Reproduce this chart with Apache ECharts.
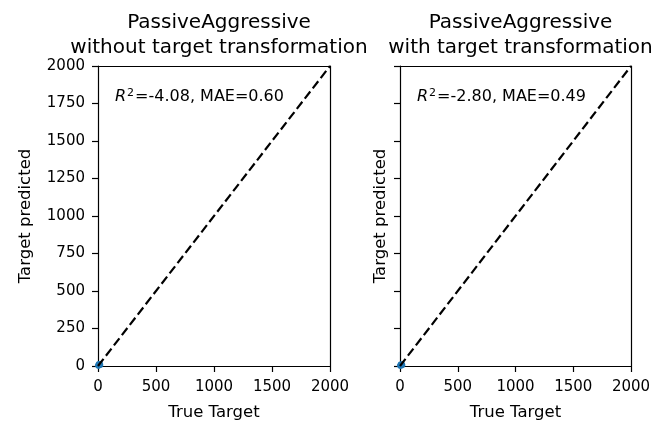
<!DOCTYPE html>
<html>
<head>
<meta charset="utf-8">
<script src="https://cdn.jsdelivr.net/npm/echarts@6/dist/echarts.min.js"></script>
<style>
  html, body { margin: 0; padding: 0; background: #fff; }
  #box { width: 669px; height: 426px; }
</style>
</head>
<body>
<div id="box"></div>
<script>
// 两个子图的标题
var titles = [
    'PassiveAggressive\nwithout target transformation',
    'PassiveAggressive\nwith target transformation'
];
// 评分文字
var r2 = ['-4.08', '-2.80'];
var mae = ['0.60', '0.49'];
// 对角线 y = x 的两个端点
var diagX = [0, 2000];
// 散点 (真实值, 预测值)，都挤在原点附近
var trueA = [2, 4, 6, 8, 10, 12, 15, 18, 5, 9, 3, 14, 20, 7];
var predA = [3, 6, 4, 10, 7, 12, 9, 14, 8, 5, 2, 11, 6, 13];
var trueB = [2, 4, 6, 8, 10, 12, 15, 18, 5, 9, 3, 14, 20, 7];
var predB = [2, 5, 4, 9, 6, 10, 8, 12, 7, 4, 2, 9, 5, 11];

var font = 'DejaVu Sans';
var grids = [
    { left: 98, top: 66, width: 232, height: 305 },
    { left: 400, top: 66, width: 231, height: 305 }
];

function pairs(xs, ys) {
    return xs.map(function (x, i) { return [x, ys[i]]; });
}
// 不要千位分隔符
function plain(v) { return String(v); }

var xAxis = [], yAxis = [], series = [], titleList = [];
grids.forEach(function (g, i) {
    xAxis.push({
        type: 'value', gridIndex: i, min: 0, max: 2000, interval: 500,
        name: 'True Target', nameLocation: 'middle', nameGap: 38,
        nameTextStyle: { fontFamily: font, fontSize: 16.5, color: '#000' },
        axisLine: { show: true, onZero: false, lineStyle: { color: '#000', width: 1.2 } },
        axisTick: { show: true, length: 6, lineStyle: { color: '#000', width: 1.2 } },
        axisLabel: { fontFamily: font, fontSize: 15, color: '#000', margin: 14, formatter: plain },
        splitLine: { show: false }
    });
    // 顶部边框
    xAxis.push({
        type: 'value', gridIndex: i, min: 0, max: 2000, position: 'top',
        axisLine: { show: true, onZero: false, lineStyle: { color: '#000', width: 1.2 } },
        axisTick: { show: false }, axisLabel: { show: false }, splitLine: { show: false }
    });
    yAxis.push({
        type: 'value', gridIndex: i, min: 0, max: 2000, interval: 250,
        name: 'Target predicted', nameLocation: 'middle', nameGap: i === 0 ? 64 : 11,
        nameTextStyle: { fontFamily: font, fontSize: 16.5, color: '#000' },
        axisLine: { show: true, onZero: false, lineStyle: { color: '#000', width: 1.2 } },
        axisTick: { show: true, length: 6, lineStyle: { color: '#000', width: 1.2 } },
        axisLabel: { show: i === 0, fontFamily: font, fontSize: 15, color: '#000', margin: 13, formatter: plain },
        splitLine: { show: false }
    });
    // 右侧边框
    yAxis.push({
        type: 'value', gridIndex: i, min: 0, max: 2000, position: 'right',
        axisLine: { show: true, onZero: false, lineStyle: { color: '#000', width: 1.2 } },
        axisTick: { show: false }, axisLabel: { show: false }, splitLine: { show: false }
    });

    series.push({
        type: 'line', xAxisIndex: i * 2, yAxisIndex: i * 2,
        data: pairs(diagX, diagX), symbol: 'none', silent: true,
        lineStyle: { color: '#000', type: [9, 4], width: 2.2 }
    });
    series.push({
        type: 'scatter', xAxisIndex: i * 2, yAxisIndex: i * 2,
        data: i === 0 ? pairs(trueA, predA) : pairs(trueB, predB),
        symbolSize: 6, itemStyle: { color: '#1f77b4', opacity: 0.8 }
    });

    titleList.push({
        text: titles[i],
        left: g.left + g.width / 2, top: 5, textAlign: 'center',
        textStyle: { fontFamily: font, fontSize: 20, fontWeight: 'normal', color: '#000', lineHeight: 25 }
    });
    titleList.push({
        text: '{i|R}{s|2}{n|=' + r2[i] + ', MAE=' + mae[i] + '}',
        left: g.left + 12, top: 83,
        textStyle: {
            fontWeight: 'normal',
            rich: {
                i: { fontFamily: font, fontSize: 16, fontStyle: 'italic', fontWeight: 'normal', color: '#000' },
                s: { fontFamily: font, fontSize: 11, fontWeight: 'normal', color: '#000', verticalAlign: 'top', padding: [0, 1, 7, 1] },
                n: { fontFamily: font, fontSize: 16, fontWeight: 'normal', color: '#000' }
            }
        }
    });
});

var myChart = echarts.init(document.getElementById('box'));
myChart.setOption({
    animation: false,
    title: titleList,
    grid: grids,
    xAxis: xAxis,
    yAxis: yAxis,
    series: series
});
</script>
</body>
</html>
